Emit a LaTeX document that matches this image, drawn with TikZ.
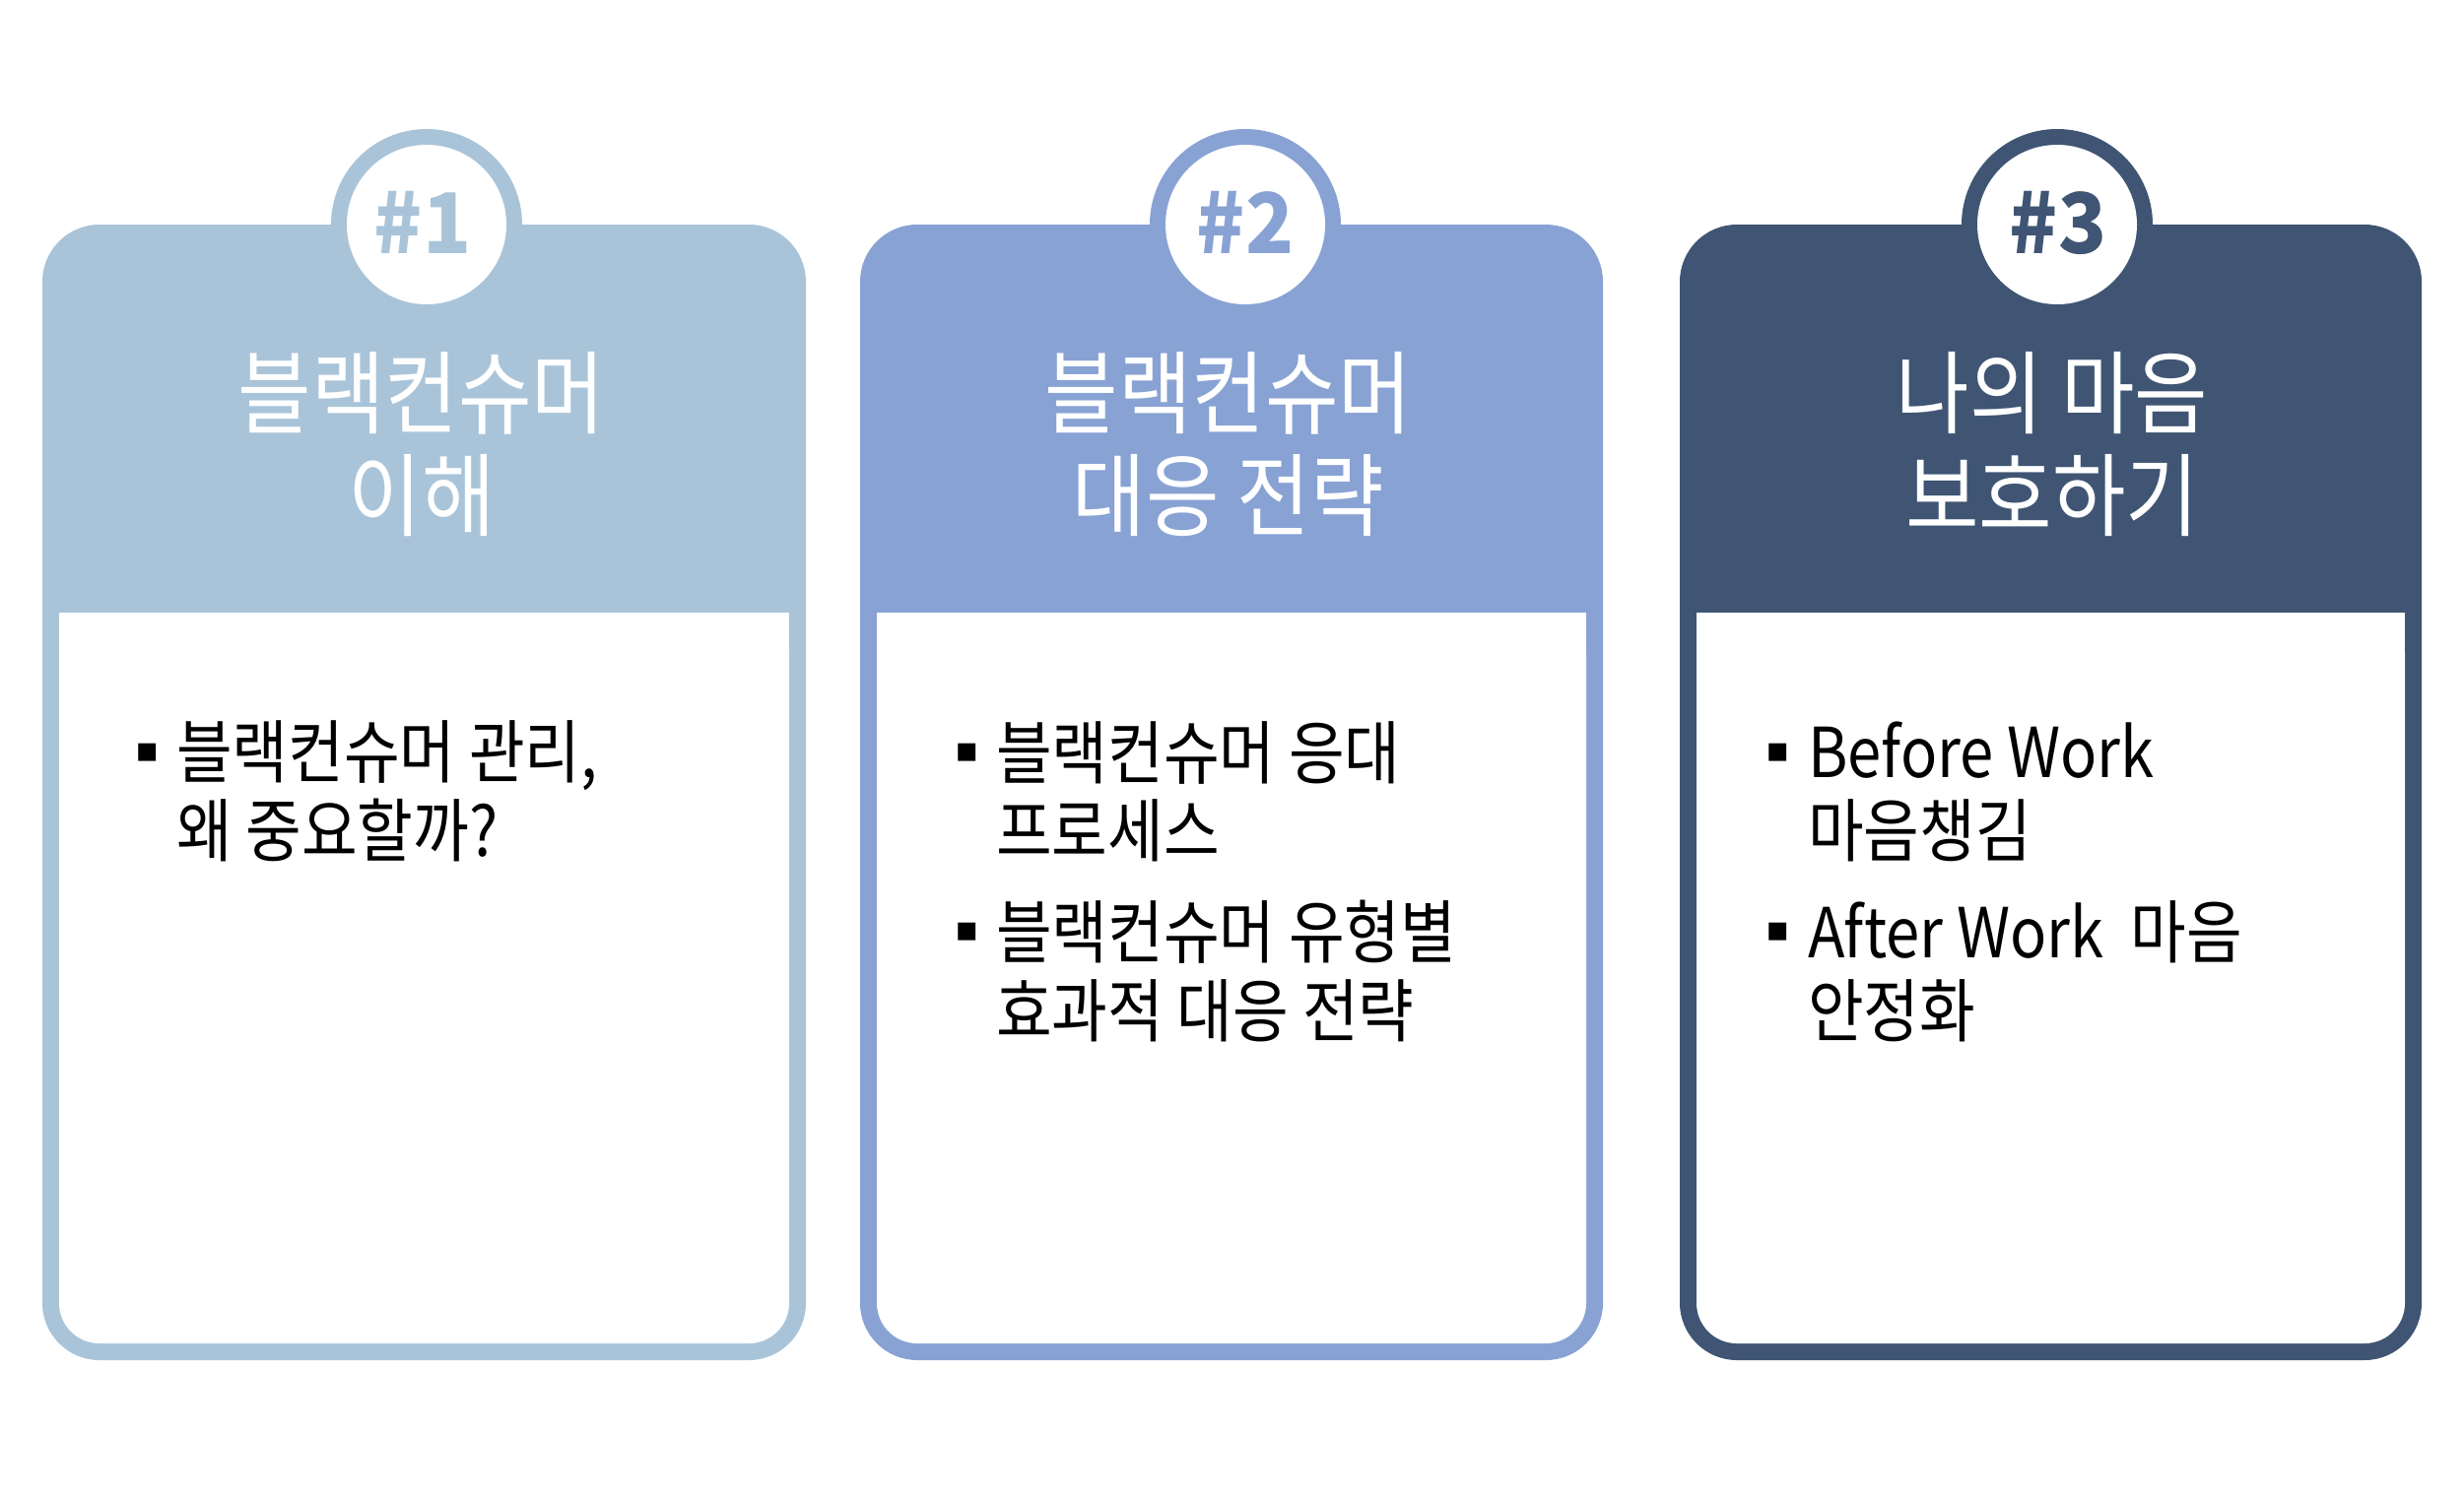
\documentclass[tikz,border=0pt]{standalone}
\usepackage{fontspec}
\newfontfamily\kr{Noto Sans CJK KR}[FakeStretch=0.88]
\newfontfamily\krnum{Noto Sans CJK KR}[FakeStretch=0.95]
\newfontfamily\symf{DejaVu Sans}
\definecolor{cA}{HTML}{A9C4D9}
\definecolor{cB}{HTML}{88A2D4}
\definecolor{cC}{HTML}{3F5573}
\tikzset{
  titletext/.style={text=white, inner sep=0pt, anchor=base, font=\kr\fontsize{92}{104}\selectfont},
  numtext/.style={inner sep=0pt, anchor=base, font=\krnum\bfseries\fontsize{85}{85}\selectfont},
  bodytext/.style={inner sep=0pt, anchor=base west, text=black, font=\kr\fontsize{70}{80}\selectfont},
  bulletmark/.style={inner sep=0pt, anchor=center, text=black, font=\symf\fontsize{36}{36}\selectfont},
}
\begin{document}
\begin{tikzpicture}[x=1pt,y=-1pt]
\useasboundingbox[fill=white] (0,0) rectangle (2501,1521);
% ---- card shapes
\foreach \xa/\xb/\cc/\cx in {43/818/cA/433, 873/1627/cB/1264, 1705/2458/cC/2088}{
  \fill[\cc, rounded corners=58pt] (\xa,228) rectangle (\xb,1381);
  \fill[white, rounded corners=41pt] ({\xa+17},622) rectangle ({\xb-17},1364);
  \fill[white] ({\xa+17},622) rectangle ({\xb-17},700);
  \fill[\cc] (\cx,228) circle[radius=97];
  \fill[white] (\cx,228) circle[radius=81];
}
% ---- numbers
\node[numtext, text=cA] (n1) at (429,257) {\#1};
\node[numtext, text=cB] (n2) at (1264,257) {\#2};
\node[numtext, text=cC] (n3) at (2089,257) {\#3};
% ---- titles
\node[titletext] (t1a) at (428,433) {블랙컨슈머};
\node[titletext] (t1b) at (428,537) {이해};
\node[titletext] (t2a) at (1247,433) {블랙컨슈머};
\node[titletext] (t2b) at (1247,537) {대응 전략};
\node[titletext] (t3a) at (2083,433) {나의 마음};
\node[titletext] (t3b) at (2083,537) {보호하기};
% ---- card 1 body
\node[bulletmark] (b1) at (150,764) {▪};
\node[bodytext] (p1a) at (179,789) {블랙컨슈머 관리,};
\node[bodytext] (p1b) at (179,869) {왜 중요할까?};
% ---- card 2 body
\node[bulletmark] (b2) at (982,764) {▪};
\node[bodytext] (p2a) at (1011,790) {블랙컨슈머 응대};
\node[bodytext] (p2b) at (1011,869) {프로세스};
\node[bulletmark] (b3) at (982,946) {▪};
\node[bodytext] (p2c) at (1011,972) {블랙컨슈머 유형별};
\node[bodytext] (p2d) at (1011,1052) {효과적 대응 전략};
% ---- card 3 body
\node[bulletmark] (b4) at (1805,764) {▪};
\node[bodytext] (p3a) at (1835,789) {Before Work};
\node[bodytext] (p3b) at (1835,869) {마음챙김};
\node[bulletmark] (b5) at (1805,946) {▪};
\node[bodytext] (p3c) at (1835,972) {After Work\ \ 마음};
\node[bodytext] (p3d) at (1835,1052) {안정화};
\end{tikzpicture}
\end{document}
